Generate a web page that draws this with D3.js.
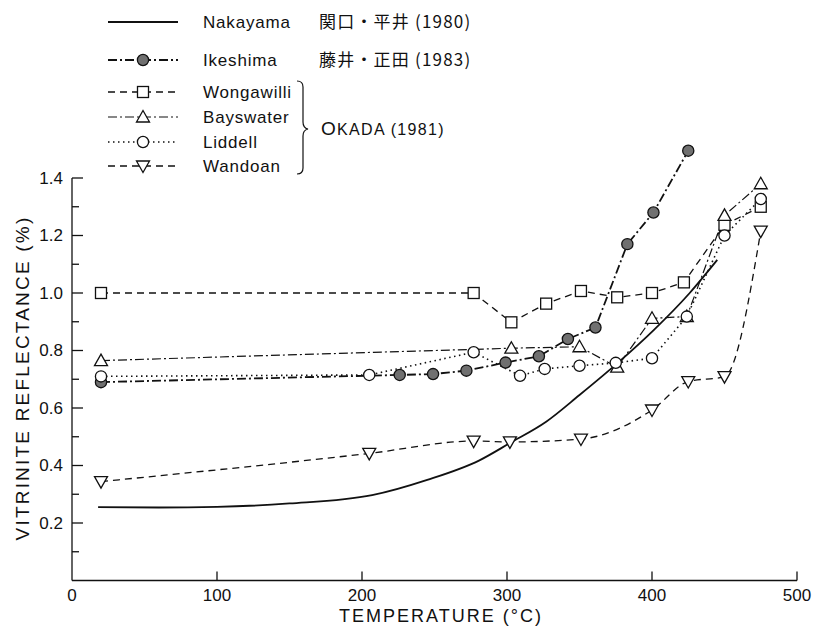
<!DOCTYPE html>
<html lang="ja">
<head>
    <meta charset="UTF-8">
    <title>Vitrinite reflectance vs temperature</title>
    <script src="https://d3js.org/d3.v7.min.js"></script>
    <style>
        body { margin: 0; background: #fff; }
        text { font-family: "Liberation Sans", "DejaVu Sans", sans-serif; fill: #111; }
        .jp { font-family: "Noto Sans CJK JP", sans-serif; }
    </style>
</head>
<body>
    <svg id="chart" width="813" height="626"></svg>
    <script>
        // values (temperature in deg C, reflectance in %)
        const nakayamaT = [18, 60, 100, 150, 207, 245, 281, 302, 327, 350, 376, 401, 426, 445];
        const nakayamaR = [0.255, 0.254, 0.256, 0.268, 0.297, 0.35, 0.418, 0.478, 0.552, 0.645, 0.755, 0.87, 1.0, 1.115];

        const ikeshimaT = [20, 226, 249, 272, 299, 322, 342, 361, 383, 401, 425];
        const ikeshimaR = [0.69, 0.715, 0.718, 0.73, 0.758, 0.78, 0.84, 0.88, 1.17, 1.28, 1.495];

        const wongawilliT = [20, 277, 303, 327, 351, 376, 400, 422, 450, 475];
        const wongawilliR = [1.0, 1.0, 0.898, 0.963, 1.007, 0.985, 1.0, 1.037, 1.237, 1.30];

        const bayswaterT = [20, 303, 350, 376, 400, 424, 450, 475];
        const bayswaterR = [0.765, 0.808, 0.813, 0.742, 0.912, 0.918, 1.27, 1.38];

        const liddellT = [20, 205, 277, 309, 326, 350, 375, 400, 424, 450, 475];
        const liddellR = [0.71, 0.715, 0.794, 0.712, 0.736, 0.747, 0.757, 0.773, 0.918, 1.20, 1.327];

        const wandoanT = [20, 205, 277, 302, 351, 400, 425, 450, 475];
        const wandoanR = [0.344, 0.442, 0.485, 0.482, 0.492, 0.593, 0.692, 0.709, 1.215];

        const xTicks = [0, 100, 200, 300, 400, 500];
        const yTicks = [0.2, 0.4, 0.6, 0.8, 1.0, 1.2, 1.4];
        const yMinorTicks = [0.1, 0.3, 0.5, 0.7, 0.9, 1.1, 1.3];

        const svg = d3.select("#chart");

        const x = d3.scaleLinear().domain([0, 500]).range([72, 797]);
        const y = d3.scaleLinear().domain([0, 1.4]).range([580.5, 178]);

        const zip = (ts, rs) => ts.map((t, i) => ({ t: t, r: rs[i] }));

        const series = [
            { name: "Nakayama", pts: zip(nakayamaT, nakayamaR), dash: null, width: 1.8, marker: null, curve: d3.curveMonotoneX },
            { name: "Ikeshima", pts: zip(ikeshimaT, ikeshimaR), dash: "9,3,2,3", width: 1.8, marker: "filled", curve: d3.curveLinear },
            { name: "Wongawilli", pts: zip(wongawilliT, wongawilliR), dash: "7,5", width: 1.3, marker: "square", curve: d3.curveLinear },
            { name: "Bayswater", pts: zip(bayswaterT, bayswaterR), dash: "9,3,2,3", width: 1.2, marker: "triangle", curve: d3.curveLinear },
            { name: "Liddell", pts: zip(liddellT, liddellR), dash: "1.5,3.5", width: 1.6, marker: "circle", curve: d3.curveLinear },
            { name: "Wandoan", pts: zip(wandoanT, wandoanR), dash: "7,5", width: 1.3, marker: "triangleDown", curve: d3.curveMonotoneX }
        ];

        // axes
        const axes = svg.append("g").attr("stroke", "#111").attr("stroke-width", 1.3);
        axes.append("line").attr("x1", x(0)).attr("x2", x(0)).attr("y1", y(1.4)).attr("y2", y(0));
        axes.append("line").attr("x1", x(0)).attr("x2", x(500)).attr("y1", y(0)).attr("y2", y(0));

        yTicks.forEach(v => {
            axes.append("line").attr("x1", x(0)).attr("x2", x(0) + 11).attr("y1", y(v)).attr("y2", y(v));
        });
        yMinorTicks.forEach(v => {
            axes.append("line").attr("x1", x(0)).attr("x2", x(0) + 7).attr("y1", y(v)).attr("y2", y(v));
        });
        xTicks.slice(1).forEach(v => {
            axes.append("line").attr("x1", x(v)).attr("x2", x(v)).attr("y1", y(0)).attr("y2", y(0) - 9);
        });

        svg.append("g").selectAll("text").data(yTicks).join("text")
            .attr("x", x(0) - 9).attr("y", d => y(d)).attr("dy", "0.35em")
            .attr("text-anchor", "end").attr("font-size", 17)
            .text(d => d.toFixed(1));

        svg.append("g").selectAll("text").data(xTicks).join("text")
            .attr("x", d => x(d)).attr("y", y(0) + 20)
            .attr("text-anchor", "middle").attr("font-size", 17)
            .text(d => d);

        svg.append("text")
            .attr("x", 441).attr("y", 622).attr("text-anchor", "middle")
            .attr("font-size", 18).attr("letter-spacing", 2)
            .text("TEMPERATURE (°C)");

        svg.append("text")
            .attr("transform", "translate(29,378) rotate(-90)")
            .attr("text-anchor", "middle").attr("font-size", 19).attr("letter-spacing", 2.2)
            .text("VITRINITE  REFLECTANCE (%)");

        // series lines
        const lineGen = d3.line().x(d => x(d.t)).y(d => y(d.r));
        series.forEach(s => {
            svg.append("path")
                .datum(s.pts)
                .attr("fill", "none")
                .attr("stroke", "#111")
                .attr("stroke-width", s.width)
                .attr("stroke-dasharray", s.dash)
                .attr("d", lineGen.curve(s.curve));
        });

        function drawMarker(g, type, cx, cy) {
            if (type === "filled") {
                g.append("circle").attr("cx", cx).attr("cy", cy).attr("r", 5.6)
                    .attr("fill", "#707070").attr("stroke", "#111").attr("stroke-width", 1.3);
            } else if (type === "circle") {
                g.append("circle").attr("cx", cx).attr("cy", cy).attr("r", 5.6)
                    .attr("fill", "#fff").attr("stroke", "#111").attr("stroke-width", 1.3);
            } else if (type === "square") {
                g.append("rect").attr("x", cx - 5.5).attr("y", cy - 5.5).attr("width", 11).attr("height", 11)
                    .attr("fill", "#fff").attr("stroke", "#111").attr("stroke-width", 1.3);
            } else if (type === "triangle") {
                g.append("path").attr("d", `M${cx},${cy - 6.5}L${cx + 6.5},${cy + 5}L${cx - 6.5},${cy + 5}Z`)
                    .attr("fill", "#fff").attr("stroke", "#111").attr("stroke-width", 1.3);
            } else if (type === "triangleDown") {
                g.append("path").attr("d", `M${cx},${cy + 6.5}L${cx + 6.5},${cy - 5}L${cx - 6.5},${cy - 5}Z`)
                    .attr("fill", "#fff").attr("stroke", "#111").attr("stroke-width", 1.3);
            }
        }

        const markers = svg.append("g");
        series.forEach(s => {
            if (!s.marker) return;
            s.pts.forEach(p => drawMarker(markers, s.marker, x(p.t), y(p.r)));
        });

        // legend
        const legY = [22, 60, 92, 117, 142, 166];
        const legend = svg.append("g");
        series.forEach((s, i) => {
            legend.append("line")
                .attr("x1", 108).attr("x2", 178).attr("y1", legY[i]).attr("y2", legY[i])
                .attr("stroke", "#111").attr("stroke-width", s.width)
                .attr("stroke-dasharray", s.dash);
            if (s.marker) drawMarker(legend, s.marker, 143, legY[i]);
            legend.append("text")
                .attr("x", 203).attr("y", legY[i]).attr("dy", "0.35em")
                .attr("font-size", 17).attr("letter-spacing", 0.8)
                .text(s.name);
        });

        legend.append("text").attr("class", "jp")
            .attr("x", 319).attr("y", legY[0]).attr("dy", "0.35em").attr("font-size", 17).attr("letter-spacing", 1.2)
            .text("関口・平井 (1980)");
        legend.append("text").attr("class", "jp")
            .attr("x", 319).attr("y", legY[1]).attr("dy", "0.35em").attr("font-size", 17).attr("letter-spacing", 1.2)
            .text("藤井・正田 (1983)");

        // brace for the Okada group
        legend.append("path")
            .attr("d", "M297,81 Q303,81 303,87 L303,122 Q303,128 308,129 Q303,130 303,136 L303,168 Q303,174 297,174")
            .attr("fill", "none").attr("stroke", "#111").attr("stroke-width", 1.2);

        const okada = legend.append("text")
            .attr("x", 321).attr("y", 129).attr("dy", "0.35em").attr("letter-spacing", 1.3);
        okada.append("tspan").attr("font-size", 19).text("O");
        okada.append("tspan").attr("font-size", 16).text("KADA (1981)");
    </script>
</body>
</html>
